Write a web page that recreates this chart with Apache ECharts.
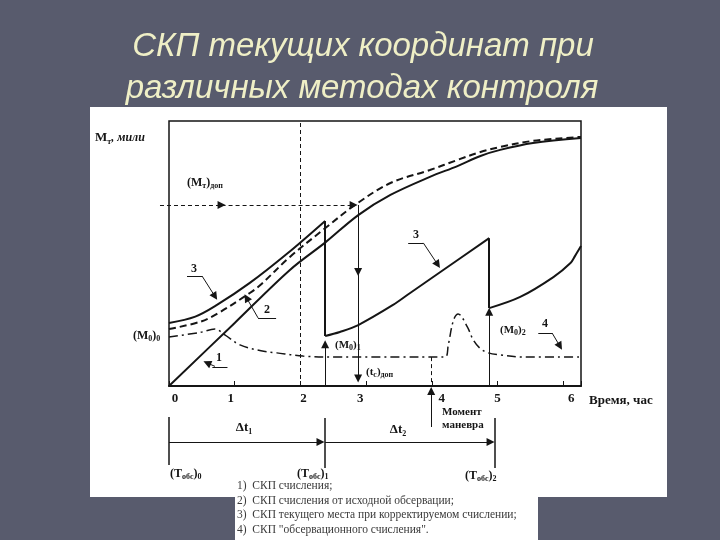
<!DOCTYPE html>
<html><head><meta charset="utf-8">
<script src="https://cdn.jsdelivr.net/npm/echarts@6/dist/echarts.min.js"></script>
<style>html,body{margin:0;padding:0;background:#585b6d}#c{width:720px;height:540px}</style>
</head><body><div id="c"></div>
<script>
// ---- data (time in hours, M in arbitrary miles units) ----
const xTicks = ['0','1','2','3','4','5','6'];
const xName = 'Время, час';
const line1 = [[0,0],[1.0,2.38],[1.84,4.38],[2.38,5.42],[2.88,6.45],[3.37,7.21],[3.97,7.89],[4.39,8.30],[4.74,8.68],[5.04,8.91],[5.54,9.17],[6.27,9.36]];
const curve2 = [[0,2.15],[0.47,2.42],[0.73,2.72],[1.23,3.51],[1.39,3.81],[1.84,4.87],[2.38,5.96],[2.83,6.83],[3.37,7.66],[3.97,8.15],[4.39,8.53],[4.74,8.83],[5.04,9.02],[5.54,9.25],[6.27,9.40]];
const curve3a = [[0,2.38],[0.40,2.62],[0.73,3.06],[1.23,3.89],[1.80,5.0],[2.376,6.23]];
const curve3b = [[2.376,1.89],[2.60,2.04],[2.88,2.30],[3.41,3.06],[3.67,3.51],[4.13,4.30],[4.873,5.58]];
const curve3c = [[4.873,2.94],[5.345,3.36],[5.85,4.11],[6.11,4.64],[6.18,4.91],[6.27,5.28]];
const curve4 = [[0,1.85],[0.47,2.02],[0.70,2.15],[0.85,1.93],[1.08,1.55],[1.40,1.33],[1.64,1.25],[2.04,1.13],[2.6,1.09],[4.2,1.09],[4.25,1.55],[4.33,2.49],[4.40,2.72],[4.54,2.23],[4.63,1.74],[4.73,1.43],[4.86,1.25],[5.04,1.17],[5.4,1.09],[6.27,1.09]];
const mtDop = 6.83;       // (M_T)доп level
const tcDop = 2.878;      // (t_c)доп
const dropTimes = [2.376, 4.873];
const dropTop = [6.23, 5.58];
const dropBottom = [1.89, 2.94];
const obsTimes = [0, 2.376, 4.964];
const maneuverT = 3.99;
const legendItems = ['1)  СКП счисления;','2)  СКП счисления от исходной обсервации;','3)  СКП текущего места при корректируемом счислении;','4)  СКП "обсервационного счисления".'];
const titleLines = ['СКП текущих координат при','различных методах контроля'];

// layout: horizontal nudge (px) of each tick label as drawn in the scan
const labelNudge = [6, -4, 3, -6, 10, 0, 8];

const X_MAX = 6.27, Y_MAX = 10, Y2_MAX = 94;
const INK = '#151515';

function seg(a, b) { return { coords: [a, b] }; }

const arrowSegs = [
  seg([-0.137, mtDop], [0.80, mtDop]),
  seg([0.80, mtDop], [2.81, mtDop])
];
const solidArrowSegs = [
  seg([tcDop, mtDop], [tcDop, 4.30]),
  seg([tcDop, 4.30], [tcDop, 0.28]),
  seg([dropTimes[0], 0], [dropTimes[0], 1.58]),
  seg([dropTimes[1], 0], [dropTimes[1], 2.80]),
  seg([0.503, 4.15], [0.70, 3.38]),
  seg([1.355, 2.57], [1.18, 3.33]),
  seg([0.70, 0.74], [0.58, 0.87]),
  seg([3.87, 5.40], [4.09, 4.58]),
  seg([5.83, 2.0], [5.95, 1.50])
];
const underlines = [
  seg([0.274, 4.15], [0.503, 4.15]),
  seg([1.355, 2.57], [1.63, 2.57]),
  seg([0.66, 0.72], [0.89, 0.72]),
  seg([3.64, 5.40], [3.87, 5.40]),
  seg([5.62, 2.0], [5.83, 2.0])
];
const dashedLines = [
  seg([2, 0], [2, Y_MAX]),
  seg([maneuverT, 1.09], [maneuverT, 0])
];
const drops = [
  seg([dropTimes[0], dropTop[0]], [dropTimes[0], dropBottom[0]]),
  seg([dropTimes[1], dropTop[1]], [dropTimes[1], dropBottom[1]])
];
const g1Arrows = [
  seg([obsTimes[0], 38], [obsTimes[1] - 0.07, 38]),
  seg([obsTimes[1], 38], [obsTimes[2] - 0.07, 38]),
  seg([maneuverT, 53], [maneuverT, 89])
];
const g1Lines = [
  seg([obsTimes[0], 63], [obsTimes[0], 15]),
  seg([obsTimes[1], 62], [obsTimes[1], 12]),
  seg([obsTimes[2], 62], [obsTimes[2], 12])
];

const chart = echarts.init(document.getElementById('c'), null, { renderer: 'canvas', width: 720, height: 540 });

const SER = '"Liberation Serif", serif';
const rich = {
  s: { font: 'bold 8px ' + SER, fill: INK, verticalAlign: 'bottom', padding: [0, 0, -1, 0] },
  i: { font: 'italic bold 12px ' + SER, fill: INK }
};
function txt(x, y, text, opt) {
  opt = opt || {};
  return {
    type: 'text', x: x, y: y, z: 100, silent: true,
    style: {
      text: text, font: opt.font || ('bold 12px ' + SER), fill: opt.fill || INK,
      align: opt.align || 'left', verticalAlign: 'middle', rich: rich
    }
  };
}

const graphics = [
  { type: 'rect', z: -10, silent: true, shape: { x: 90, y: 107, width: 577, height: 390 }, style: { fill: '#ffffff' } },
  { type: 'rect', z: -10, silent: true, shape: { x: 235, y: 490, width: 303, height: 50 }, style: { fill: '#ffffff' } },
  txt(363, 47, titleLines[0], { font: 'italic 33px "Liberation Sans", sans-serif', fill: '#efefc6', align: 'center' }),
  txt(362, 89, titleLines[1], { font: 'italic 33px "Liberation Sans", sans-serif', fill: '#efefc6', align: 'center' }),
  txt(95, 138, 'M{s|т}{i|, мили}', { font: 'bold 13px ' + SER }),
  txt(187, 183, '(M{s|т}){s|доп}'),
  txt(133, 336, '(M{s|0}){s|0}'),
  txt(194, 269, '3', { align: 'center' }),
  txt(267, 310, '2', { align: 'center' }),
  txt(219, 358, '1', { align: 'center' }),
  txt(416, 235, '3', { align: 'center' }),
  txt(335, 345, '(M{s|0}){s|1}', { font: 'bold 11px ' + SER }),
  txt(366, 372, '(t{s|c}){s|доп}', { font: 'bold 11px ' + SER }),
  txt(500, 330, '(M{s|0}){s|2}', { font: 'bold 11px ' + SER }),
  txt(545, 324, '4', { align: 'center' }),
  txt(244, 428, 'Δt{s|1}', { font: 'bold 13px ' + SER, align: 'center' }),
  txt(398, 430, 'Δt{s|2}', { font: 'bold 13px ' + SER, align: 'center' }),
  txt(170, 474, '(T{s|обс}){s|0}'),
  txt(297, 474, '(T{s|обс}){s|1}'),
  txt(465, 476, '(T{s|обс}){s|2}'),
  txt(442, 412, 'Момент', { font: 'bold 11px ' + SER }),
  txt(442, 425, 'маневра', { font: 'bold 11px ' + SER })
];
legendItems.forEach(function (s, i) {
  graphics.push(txt(237, 486 + i * 14.6, s, { font: '11.5px ' + SER, fill: '#3a3a3a' }));
});

// rich styles that shift each tick label like the scan
const tickRich = {};
labelNudge.forEach(function (n, i) {
  tickRich['n' + i] = {
    fontFamily: 'Liberation Serif', fontWeight: 'bold', fontSize: 13, color: INK,
    padding: n >= 0 ? [0, 0, 0, 2 * n] : [0, -2 * n, 0, 0]
  };
});

function curve(data, type, width) {
  return {
    type: 'line', xAxisIndex: 0, yAxisIndex: 0, data: data, smooth: 0.35, symbol: 'none',
    lineStyle: { color: INK, width: width, type: type }, z: 3
  };
}
function linesSer(data, grid, type, width, arrow) {
  return {
    type: 'lines', coordinateSystem: 'cartesian2d', xAxisIndex: grid, yAxisIndex: grid,
    clip: false, silent: true, data: data, z: 4,
    symbol: arrow ? ['none', 'triangle'] : ['none', 'none'], symbolSize: 8,
    lineStyle: { color: INK, width: width, type: type, opacity: 1, curveness: 0 }
  };
}

chart.setOption({
  backgroundColor: '#585b6d',
  animation: false,
  grid: [
    { left: 169, top: 121, width: 412, height: 265, show: true, borderColor: INK, borderWidth: 1.5, backgroundColor: 'transparent' },
    { left: 169, top: 386, width: 412, height: Y2_MAX, show: false }
  ],
  xAxis: [
    {
      gridIndex: 0, type: 'value', min: 0, max: X_MAX, interval: 1,
      axisLine: { show: true, lineStyle: { color: INK, width: 2 } },
      axisTick: { show: true, inside: true, length: 5, lineStyle: { color: INK, width: 1 } },
      axisLabel: { margin: 6, color: INK, fontFamily: 'Liberation Serif', fontWeight: 'bold', fontSize: 13, rich: tickRich,
        formatter: function (v) { return xTicks[v] !== undefined ? '{n' + v + '|' + xTicks[v] + '}' : ''; } },
      splitLine: { show: false },
      name: xName, nameLocation: 'end', nameGap: 8,
      nameTextStyle: { color: INK, fontFamily: 'Liberation Serif', fontWeight: 'bold', fontSize: 13, align: 'left', verticalAlign: 'top', padding: [8, 0, 0, 0] }
    },
    { gridIndex: 1, type: 'value', min: 0, max: X_MAX, show: false }
  ],
  yAxis: [
    { gridIndex: 0, type: 'value', min: 0, max: Y_MAX, show: false },
    { gridIndex: 1, type: 'value', min: 0, max: Y2_MAX, show: false }
  ],
  graphic: graphics,
  series: [
    curve(line1, 'solid', 2),
    curve(curve2, [7, 4], 2),
    curve(curve3a, 'solid', 2),
    curve(curve3b, 'solid', 2),
    curve(curve3c, 'solid', 2),
    curve(curve4, [9, 4, 2, 4], 1.5),
    linesSer(drops, 0, 'solid', 2, false),
    linesSer(arrowSegs, 0, [4, 3], 1, true),
    linesSer(solidArrowSegs, 0, 'solid', 1, true),
    linesSer(underlines, 0, 'solid', 1, false),
    linesSer(dashedLines, 0, [4, 3], 1, false),
    linesSer(g1Arrows, 1, 'solid', 1, true),
    linesSer(g1Lines, 1, 'solid', 1.5, false)
  ]
});
</script></body></html>
